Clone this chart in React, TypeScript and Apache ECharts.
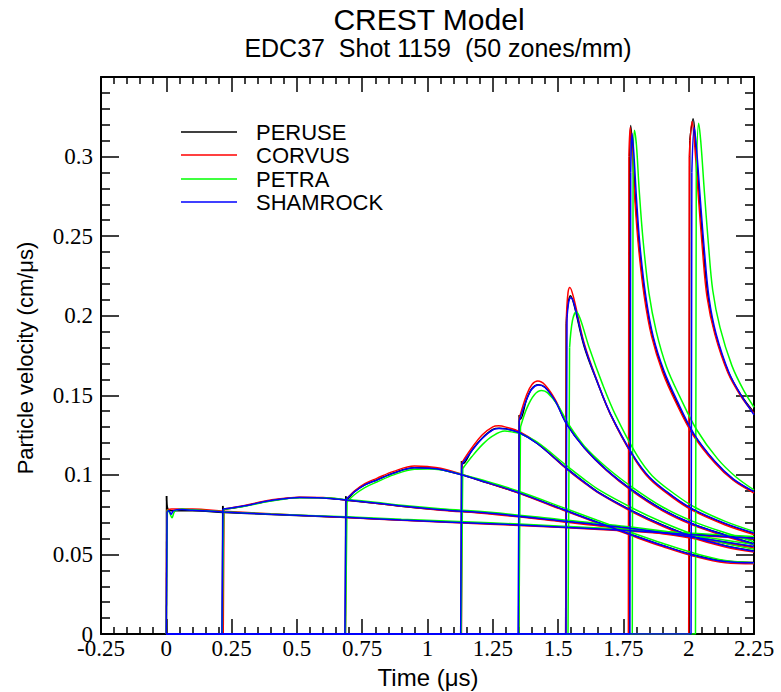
import React, { useEffect, useRef } from 'react';
import * as echarts from 'echarts';

const CODES = ['PERUSE', 'CORVUS', 'PETRA', 'SHAMROCK'];
const COLORS = ['#000000', '#ff0000', '#00ff00', '#0000ff'];
const X_TICK_LABELS = ['-0.25', '0', '0.25', '0.5', '0.75', '1', '1.25', '1.5', '1.75', '2', '2.25'];
const Y_TICK_LABELS = ['0', '0.05', '0.1', '0.15', '0.2', '0.25', '0.3'];

// [time (µs), particle velocity (cm/µs)] per gauge
const PERUSE = [
  [[0,0],[0.001,0.0867],[0.006,0.0785],[0.02,0.0775],[0.1,0.0774],[0.22,0.0764],[0.4,0.0751],[0.69,0.0732],[0.9,0.0717],[1.24,0.0694],[1.5,0.0674],[1.78,0.065],[2.0,0.0628],[2.25,0.0605]],
  [[0,0],[0.214,0],[0.216,0.0805],[0.221,0.0785],[0.3,0.0805],[0.4,0.0838],[0.51,0.0857],[0.6,0.0855],[0.69,0.0841],[0.8,0.0822],[0.9,0.0803],[1.05,0.078],[1.24,0.0757],[1.5,0.0712],[1.78,0.0662],[2.0,0.0612],[2.25,0.0548]],
  [[0,0],[0.685,0],[0.687,0.0865],[0.692,0.0848],[0.72,0.0895],[0.76,0.0938],[0.806,0.0968],[0.87,0.1012],[0.95,0.1045],[1.0,0.1043],[1.05,0.1034],[1.13,0.1],[1.2,0.0965],[1.34,0.0892],[1.52,0.0782],[1.65,0.0702],[1.786,0.0622],[1.9,0.0557],[2.016,0.0498],[2.14,0.0458],[2.25,0.045]],
  [[0,0],[1.128,0],[1.13,0.1085],[1.135,0.107],[1.17,0.1155],[1.21,0.1232],[1.25,0.1285],[1.275,0.1293],[1.3,0.129],[1.354,0.1263],[1.42,0.1198],[1.532,0.1042],[1.6,0.0955],[1.66,0.0885],[1.786,0.0772],[1.9,0.0685],[2.016,0.0612],[2.14,0.0555],[2.25,0.0522]],
  [[0,0],[1.349,0],[1.351,0.1375],[1.356,0.135],[1.38,0.1478],[1.4,0.1543],[1.424,0.1566],[1.45,0.155],[1.49,0.1462],[1.532,0.1322],[1.6,0.1172],[1.685,0.1032],[1.786,0.0902],[1.9,0.0782],[2.016,0.0692],[2.14,0.0622],[2.25,0.0567]],
  [[0,0],[1.529,0],[1.531,0.195],[1.538,0.2075],[1.547,0.2125],[1.56,0.2075],[1.6,0.1805],[1.65,0.1582],[1.7,0.1382],[1.786,0.1122],[1.85,0.0982],[1.94,0.0862],[2.016,0.0782],[2.14,0.0692],[2.25,0.0632]],
  [[0,0],[1.772,0],[1.774,0.3],[1.778,0.3195],[1.785,0.306],[1.795,0.276],[1.81,0.244],[1.832,0.213],[1.86,0.188],[1.9,0.166],[1.95,0.147],[2.016,0.1262],[2.1,0.1082],[2.17,0.0972],[2.25,0.0892]],
  [[0,0],[2.002,0],[2.004,0.31],[2.017,0.3238],[2.025,0.311],[2.04,0.276],[2.055,0.244],[2.073,0.213],[2.1,0.19],[2.15,0.1652],[2.2,0.1502],[2.25,0.1392]],
];

const CORVUS = [
  [[0,0],[0.002,0.078],[0.02,0.0785],[0.1,0.0785],[0.22,0.0772],[0.4,0.0755],[0.69,0.0732],[0.9,0.0715],[1.24,0.069],[1.5,0.067],[1.78,0.0645],[2.0,0.0622],[2.25,0.0598]],
  [[0,0],[0.218,0],[0.221,0.0785],[0.3,0.0808],[0.4,0.0842],[0.51,0.086],[0.6,0.0857],[0.69,0.0842],[0.8,0.0822],[0.9,0.0802],[1.05,0.0778],[1.24,0.0754],[1.5,0.0708],[1.78,0.0656],[2.0,0.0605],[2.25,0.0542]],
  [[0,0],[0.686,0],[0.689,0.0845],[0.72,0.0898],[0.76,0.0945],[0.806,0.0978],[0.87,0.1022],[0.95,0.1055],[1.0,0.1052],[1.05,0.1042],[1.13,0.1004],[1.2,0.0966],[1.34,0.0891],[1.52,0.0778],[1.65,0.0697],[1.786,0.0615],[1.9,0.0549],[2.016,0.049],[2.14,0.0448],[2.25,0.0442]],
  [[0,0],[1.13,0],[1.133,0.108],[1.17,0.117],[1.21,0.1252],[1.25,0.1302],[1.272,0.1308],[1.3,0.13],[1.354,0.127],[1.42,0.12],[1.532,0.1038],[1.6,0.095],[1.66,0.088],[1.786,0.0765],[1.9,0.0677],[2.016,0.0603],[2.14,0.0547],[2.25,0.0515]],
  [[0,0],[1.349,0],[1.352,0.136],[1.38,0.1505],[1.4,0.1568],[1.422,0.159],[1.45,0.1565],[1.49,0.147],[1.532,0.1325],[1.6,0.117],[1.685,0.1028],[1.786,0.0895],[1.9,0.0774],[2.016,0.0684],[2.14,0.0614],[2.25,0.056]],
  [[0,0],[1.529,0],[1.532,0.2],[1.538,0.2145],[1.545,0.2178],[1.56,0.211],[1.6,0.1825],[1.65,0.1588],[1.7,0.1382],[1.786,0.1118],[1.85,0.0975],[1.94,0.0855],[2.016,0.0775],[2.14,0.0685],[2.25,0.0625]],
  [[0,0],[1.769,0],[1.771,0.3],[1.776,0.3185],[1.783,0.305],[1.793,0.275],[1.808,0.243],[1.83,0.212],[1.858,0.187],[1.9,0.1645],[1.95,0.1458],[2.016,0.1252],[2.1,0.1074],[2.17,0.0966],[2.25,0.0886]],
  [[0,0],[2.0,0],[2.002,0.3],[2.013,0.322],[2.022,0.309],[2.037,0.275],[2.052,0.243],[2.07,0.212],[2.1,0.1885],[2.15,0.1642],[2.2,0.1494],[2.25,0.1385]],
];

const PETRA = [
  [[0,0],[0.004,0.078],[0.012,0.0765],[0.022,0.073],[0.032,0.077],[0.06,0.0785],[0.1,0.078],[0.22,0.0768],[0.4,0.0754],[0.69,0.0736],[0.9,0.0721],[1.24,0.0699],[1.5,0.0679],[1.78,0.0656],[2.0,0.0634],[2.25,0.0612]],
  [[0,0],[0.214,0],[0.22,0.0785],[0.3,0.0802],[0.4,0.0835],[0.51,0.0856],[0.6,0.0856],[0.69,0.0845],[0.8,0.0828],[0.9,0.0809],[1.05,0.0787],[1.24,0.0765],[1.5,0.0721],[1.78,0.0672],[2.0,0.0624],[2.25,0.0562]],
  [[0,0],[0.686,0],[0.692,0.083],[0.72,0.0875],[0.76,0.092],[0.806,0.0955],[0.87,0.1],[0.95,0.1035],[1.0,0.1037],[1.05,0.1032],[1.13,0.1003],[1.2,0.0972],[1.34,0.0902],[1.52,0.0794],[1.65,0.0715],[1.786,0.0635],[1.9,0.057],[2.016,0.051],[2.14,0.0462],[2.25,0.0448]],
  [[0,0],[1.129,0],[1.135,0.104],[1.17,0.1115],[1.21,0.119],[1.25,0.1245],[1.296,0.1275],[1.33,0.1268],[1.354,0.126],[1.42,0.1205],[1.532,0.1058],[1.6,0.0972],[1.66,0.0902],[1.786,0.079],[1.9,0.0702],[2.016,0.0627],[2.14,0.0568],[2.25,0.0533]],
  [[0,0],[1.35,0],[1.356,0.13],[1.38,0.1418],[1.41,0.1505],[1.437,0.153],[1.46,0.1515],[1.5,0.1435],[1.54,0.1318],[1.6,0.1182],[1.685,0.1048],[1.786,0.092],[1.9,0.0798],[2.016,0.0708],[2.14,0.0636],[2.25,0.058]],
  [[0,0],[1.538,0],[1.544,0.18],[1.555,0.197],[1.57,0.2025],[1.585,0.198],[1.62,0.1795],[1.67,0.157],[1.72,0.1375],[1.8,0.1128],[1.86,0.0995],[1.95,0.0875],[2.025,0.0795],[2.14,0.0708],[2.25,0.0645]],
  [[0,0],[1.784,0],[1.787,0.29],[1.792,0.3165],[1.8,0.307],[1.81,0.28],[1.825,0.248],[1.848,0.214],[1.876,0.19],[1.915,0.168],[1.965,0.1495],[2.03,0.1285],[2.11,0.1102],[2.18,0.0988],[2.25,0.0905]],
  [[0,0],[2.026,0],[2.029,0.29],[2.038,0.321],[2.046,0.31],[2.06,0.278],[2.075,0.246],[2.092,0.216],[2.12,0.1925],[2.165,0.1688],[2.21,0.1532],[2.25,0.1425]],
];

const SHAMROCK = [
  [[0,0],[0.003,0.077],[0.01,0.0775],[0.018,0.0752],[0.028,0.0775],[0.06,0.0782],[0.1,0.0778],[0.22,0.0767],[0.4,0.0752],[0.69,0.0733],[0.9,0.0716],[1.24,0.0693],[1.5,0.0673],[1.78,0.0649],[2.0,0.0626],[2.25,0.0602]],
  [[0,0],[0.213,0],[0.217,0.0785],[0.3,0.0806],[0.4,0.0839],[0.51,0.0858],[0.6,0.0855],[0.69,0.0842],[0.8,0.0823],[0.9,0.0804],[1.05,0.0781],[1.24,0.0758],[1.5,0.0713],[1.78,0.0663],[2.0,0.0613],[2.25,0.055]],
  [[0,0],[0.684,0],[0.688,0.0845],[0.72,0.0893],[0.76,0.0937],[0.806,0.0967],[0.87,0.1011],[0.95,0.1044],[1.0,0.1042],[1.05,0.1034],[1.13,0.1001],[1.2,0.0966],[1.34,0.0893],[1.52,0.0782],[1.65,0.0702],[1.786,0.0621],[1.9,0.0556],[2.016,0.0497],[2.14,0.0455],[2.25,0.0447]],
  [[0,0],[1.127,0],[1.131,0.1065],[1.17,0.1152],[1.21,0.123],[1.25,0.1283],[1.272,0.1292],[1.3,0.1289],[1.354,0.1263],[1.42,0.1197],[1.532,0.1041],[1.6,0.0954],[1.66,0.0884],[1.786,0.0771],[1.9,0.0684],[2.016,0.0611],[2.14,0.0554],[2.25,0.052]],
  [[0,0],[1.347,0],[1.351,0.134],[1.38,0.1475],[1.4,0.154],[1.424,0.1564],[1.45,0.1549],[1.49,0.1461],[1.532,0.1321],[1.6,0.1171],[1.685,0.1031],[1.786,0.0901],[1.9,0.0781],[2.016,0.0691],[2.14,0.0621],[2.25,0.0566]],
  [[0,0],[1.53,0],[1.534,0.198],[1.541,0.209],[1.549,0.2113],[1.562,0.207],[1.6,0.1815],[1.65,0.1585],[1.7,0.1385],[1.786,0.1125],[1.85,0.0985],[1.94,0.0865],[2.016,0.0785],[2.14,0.0695],[2.25,0.0635]],
  [[0,0],[1.775,0],[1.778,0.29],[1.783,0.3145],[1.79,0.302],[1.8,0.274],[1.814,0.243],[1.836,0.212],[1.864,0.187],[1.905,0.1655],[1.955,0.1468],[2.02,0.1258],[2.1,0.1085],[2.17,0.0975],[2.25,0.0895]],
  [[0,0],[2.009,0],[2.012,0.29],[2.021,0.3185],[2.03,0.305],[2.045,0.272],[2.06,0.241],[2.078,0.211],[2.105,0.1885],[2.155,0.164],[2.205,0.1488],[2.25,0.1378]],
];

const ALL_CODES = [PERUSE, CORVUS, PETRA, SHAMROCK];

const SERIF = '"Liberation Serif", "Times New Roman", serif';
const SANS = '"Liberation Sans", Arial, sans-serif';

export default function App() {
  const ref = useRef<HTMLDivElement>(null);
  useEffect(() => {
    if (!ref.current) return;
    const chart = echarts.init(ref.current, undefined, { renderer: 'svg' });

    const series: any[] = [];
    ALL_CODES.forEach((gauges, c) => {
      gauges.forEach((g) => {
        const k = g.findIndex((p) => p[1] > 0);
        // arrival: flat zero line and sharp front (straight segments)
        series.push({
          type: 'line',
          name: CODES[c],
          data: g.slice(0, k + 1),
          symbol: 'none',
          showSymbol: false,
          smooth: false,
          silent: true,
          lineStyle: { color: COLORS[c], width: 1.5 },
          z: 2 + c,
        });
        // profile behind the front (smoothed)
        series.push({
          type: 'line',
          name: CODES[c],
          data: g.slice(k),
          symbol: 'none',
          showSymbol: false,
          smooth: 0.35,
          silent: true,
          lineStyle: { color: COLORS[c], width: 1.5 },
          z: 2 + c,
        });
      });
    });

    const xLabel = (v: number) => {
      const i = Math.round((v + 0.25) / 0.25);
      return X_TICK_LABELS[i] ?? '';
    };
    const yLabel = (v: number) => {
      const i = Math.round(v / 0.05);
      return Y_TICK_LABELS[i] ?? '';
    };

    const axisLine = { show: true, onZero: false, lineStyle: { color: '#000', width: 2 } };
    const xCommon = {
      type: 'value',
      min: -0.25,
      max: 2.25,
      interval: 0.25,
      axisLine,
      axisTick: { show: true, inside: true, length: 15, lineStyle: { color: '#000', width: 1.5 } },
      minorTick: { show: true, splitNumber: 5, length: 7, lineStyle: { color: '#000', width: 1.5 } },
      splitLine: { show: false },
      minorSplitLine: { show: false },
    };
    const yCommon = {
      type: 'value',
      min: 0,
      max: 0.35,
      interval: 0.05,
      axisLine,
      axisTick: { show: true, inside: true, length: 18, lineStyle: { color: '#000', width: 1.5 } },
      minorTick: { show: true, splitNumber: 5, length: 9, lineStyle: { color: '#000', width: 1.5 } },
      splitLine: { show: false },
      minorSplitLine: { show: false },
    };

    const legendY = [132, 155, 179, 202];
    const graphics: any[] = [
      { type: 'text', x: 429, y: 19, style: { text: 'CREST Model', font: `30px ${SANS}`, fill: '#000', textAlign: 'center', textVerticalAlign: 'middle' } },
      { type: 'text', x: 438, y: 48, style: { text: 'EDC37  Shot 1159  (50 zones/mm)', font: `25px ${SANS}`, fill: '#000', textAlign: 'center', textVerticalAlign: 'middle' } },
      { type: 'text', x: 428, y: 677, style: { text: 'Time (μs)', font: `24px ${SANS}`, fill: '#000', textAlign: 'center', textVerticalAlign: 'middle' } },
      { type: 'text', x: 25, y: 358, rotation: Math.PI / 2, style: { text: 'Particle velocity (cm/μs)', font: `22px ${SANS}`, fill: '#000', textAlign: 'center', textVerticalAlign: 'middle' } },
    ];
    CODES.forEach((name, i) => {
      graphics.push({ type: 'line', shape: { x1: 181, y1: legendY[i], x2: 237, y2: legendY[i] }, style: { stroke: COLORS[i], lineWidth: 1.5 } });
      graphics.push({ type: 'text', x: 256, y: legendY[i], style: { text: name, font: `22px ${SANS}`, fill: '#000', textAlign: 'left', textVerticalAlign: 'middle' } });
    });

    chart.setOption({
      animation: false,
      backgroundColor: '#fff',
      grid: { left: 101, right: 27, top: 77, bottom: 58, containLabel: false },
      xAxis: [
        { ...xCommon, position: 'bottom', axisLabel: { show: true, formatter: xLabel, color: '#000', fontFamily: SERIF, fontSize: 23, lineHeight: 16, margin: 6 } },
        { ...xCommon, position: 'top', axisLabel: { show: false } },
      ],
      yAxis: [
        { ...yCommon, position: 'left', axisLabel: { show: true, formatter: yLabel, color: '#000', fontFamily: SERIF, fontSize: 23, lineHeight: 16, margin: 8 } },
        { ...yCommon, position: 'right', axisLabel: { show: false } },
      ],
      series,
      graphic: graphics,
    });
    return () => chart.dispose();
  }, []);
  return <div ref={ref} style={{ position: 'fixed', left: 0, top: 0, width: 781, height: 692, background: '#fff' }} />;
}
